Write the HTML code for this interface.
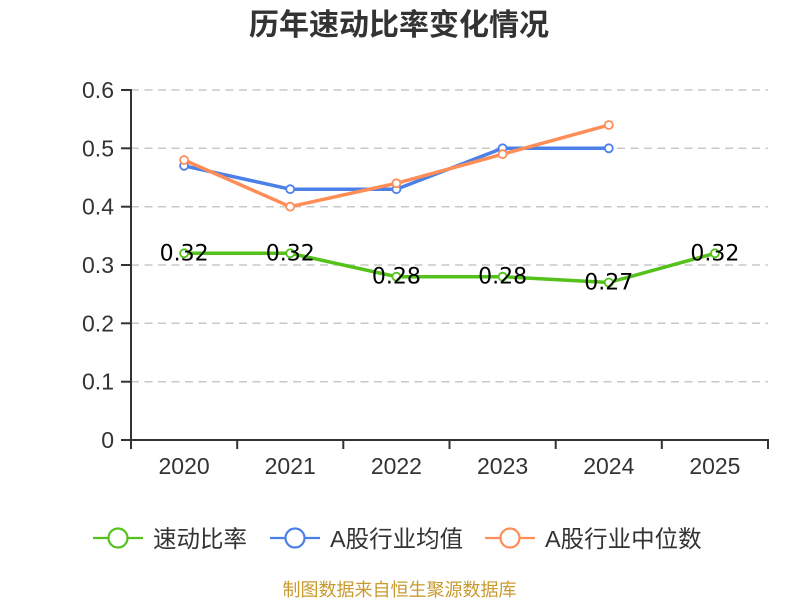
<!DOCTYPE html>
<html>
<head>
<meta charset="utf-8">
<style>
html,body{margin:0;padding:0;background:#fff;}
svg{display:block;}
</style>
</head>
<body>
<svg width="800" height="600" viewBox="0 0 800 600" xmlns="http://www.w3.org/2000/svg">
<rect width="800" height="600" fill="#fff"/>
<!-- title -->
<text x="399" y="35" text-anchor="middle" font-family="'Liberation Sans','Noto Sans CJK SC',sans-serif" font-size="30" font-weight="bold" fill="#333">历年速动比率变化情况</text>

<!-- grid lines -->
<g stroke="#c8c8c8" stroke-width="1.5" stroke-dasharray="8,5.5" fill="none">
<line x1="131" y1="90" x2="768" y2="90"/>
<line x1="131" y1="148.3" x2="768" y2="148.3"/>
<line x1="131" y1="206.7" x2="768" y2="206.7"/>
<line x1="131" y1="265" x2="768" y2="265"/>
<line x1="131" y1="323.3" x2="768" y2="323.3"/>
<line x1="131" y1="381.7" x2="768" y2="381.7"/>
</g>

<!-- axes -->
<g stroke="#333" stroke-width="2" fill="none">
<line x1="131" y1="89" x2="131" y2="441"/>
<line x1="130" y1="440" x2="769" y2="440"/>
<line x1="121" y1="90" x2="131" y2="90"/>
<line x1="121" y1="148.3" x2="131" y2="148.3"/>
<line x1="121" y1="206.7" x2="131" y2="206.7"/>
<line x1="121" y1="265" x2="131" y2="265"/>
<line x1="121" y1="323.3" x2="131" y2="323.3"/>
<line x1="121" y1="381.7" x2="131" y2="381.7"/>
<line x1="121" y1="440" x2="131" y2="440"/>
<line x1="131" y1="440" x2="131" y2="449"/>
<line x1="237.2" y1="440" x2="237.2" y2="449"/>
<line x1="343.3" y1="440" x2="343.3" y2="449"/>
<line x1="449.5" y1="440" x2="449.5" y2="449"/>
<line x1="555.7" y1="440" x2="555.7" y2="449"/>
<line x1="661.8" y1="440" x2="661.8" y2="449"/>
<line x1="768" y1="440" x2="768" y2="449"/>
</g>

<!-- y labels -->
<g font-family="'Liberation Sans','Noto Sans CJK SC',sans-serif" font-size="23" fill="#333" text-anchor="end">
<text x="114" y="98">0.6</text>
<text x="114" y="156.3">0.5</text>
<text x="114" y="214.7">0.4</text>
<text x="114" y="273">0.3</text>
<text x="114" y="331.3">0.2</text>
<text x="114" y="389.7">0.1</text>
<text x="114" y="448">0</text>
</g>

<!-- x labels -->
<g font-family="'Liberation Sans','Noto Sans CJK SC',sans-serif" font-size="23" fill="#333" text-anchor="middle">
<text x="184.1" y="474">2020</text>
<text x="290.2" y="474">2021</text>
<text x="396.4" y="474">2022</text>
<text x="502.6" y="474">2023</text>
<text x="608.8" y="474">2024</text>
<text x="714.9" y="474">2025</text>
</g>

<!-- green series -->
<polyline points="184.1,253.3 290.2,253.3 396.4,276.7 502.6,276.7 608.8,282.5 714.9,253.3" fill="none" stroke="#55c21b" stroke-width="3.5" stroke-linejoin="round"/>
<g fill="#fff" stroke="#55c21b" stroke-width="1.8">
<circle cx="184.1" cy="253.3" r="4"/>
<circle cx="290.2" cy="253.3" r="4"/>
<circle cx="396.4" cy="276.7" r="4"/>
<circle cx="502.6" cy="276.7" r="4"/>
<circle cx="608.8" cy="282.5" r="4"/>
<circle cx="714.9" cy="253.3" r="4"/>
</g>

<!-- blue series -->
<polyline points="184.1,165.8 290.2,189.2 396.4,189.2 502.6,148.3 608.8,148.3" fill="none" stroke="#4b80e8" stroke-width="3.5" stroke-linejoin="round"/>
<g fill="#fff" stroke="#4b80e8" stroke-width="1.8">
<circle cx="184.1" cy="165.8" r="4"/>
<circle cx="290.2" cy="189.2" r="4"/>
<circle cx="396.4" cy="189.2" r="4"/>
<circle cx="502.6" cy="148.3" r="4"/>
<circle cx="608.8" cy="148.3" r="4"/>
</g>

<!-- orange series -->
<polyline points="184.1,160 290.2,206.7 396.4,183.3 502.6,154.2 608.8,125" fill="none" stroke="#ff8d57" stroke-width="3.5" stroke-linejoin="round"/>
<g fill="#fff" stroke="#ff8d57" stroke-width="1.8">
<circle cx="184.1" cy="160" r="4"/>
<circle cx="290.2" cy="206.7" r="4"/>
<circle cx="396.4" cy="183.3" r="4"/>
<circle cx="502.6" cy="154.2" r="4"/>
<circle cx="608.8" cy="125" r="4"/>
</g>

<!-- data labels -->
<g font-family="'DejaVu Sans',sans-serif" font-size="22" fill="#000" text-anchor="middle">
<text x="184.1" y="260.3">0.32</text>
<text x="290.2" y="260.3">0.32</text>
<text x="396.4" y="283.7">0.28</text>
<text x="502.6" y="283.7">0.28</text>
<text x="608.8" y="289.5">0.27</text>
<text x="714.9" y="260.3">0.32</text>
</g>

<!-- legend -->
<g stroke-width="2.2" fill="#fff">
<line x1="93" y1="538" x2="143" y2="538" stroke="#55c21b"/>
<circle cx="118" cy="538" r="9.5" stroke="#55c21b"/>
<line x1="270" y1="538" x2="320" y2="538" stroke="#4b80e8"/>
<circle cx="295" cy="538" r="9.5" stroke="#4b80e8"/>
<line x1="485" y1="538" x2="535" y2="538" stroke="#ff8d57"/>
<circle cx="510" cy="538" r="9.5" stroke="#ff8d57"/>
</g>
<g font-family="'Liberation Sans','Noto Sans CJK SC',sans-serif" font-size="23.5" fill="#333">
<text x="153" y="547">速动比率</text>
<text x="330" y="547">A股行业均值</text>
<text x="545" y="547">A股行业中位数</text>
</g>

<!-- footer -->
<text x="399.5" y="596" text-anchor="middle" font-family="'Liberation Sans','Noto Sans CJK SC',sans-serif" font-size="18" fill="#c99a2e">制图数据来自恒生聚源数据库</text>
</svg>
</body>
</html>
